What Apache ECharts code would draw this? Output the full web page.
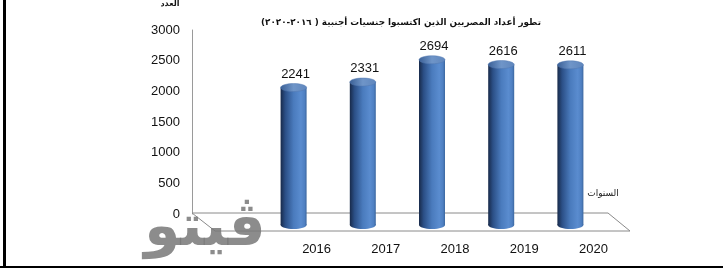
<!DOCTYPE html>
<html><head><meta charset="utf-8">
<script src="https://cdn.jsdelivr.net/npm/echarts@6/dist/echarts.min.js"></script>
<style>html,body{margin:0;padding:0;background:#fff}#c{width:723px;height:271px}</style>
</head><body><div id="c"></div>
<script>
const categories = ['2016', '2017', '2018', '2019', '2020'];
const values = [2241, 2331, 2694, 2616, 2611];
const yTicks = [0, 500, 1000, 1500, 2000, 2500, 3000];
const titleText = 'تطور أعداد المصريين الذين اكتسبوا جنسيات أجنبية ( ٢٠١٦-٢٠٢٠)';
const yName = 'العدد';
const xName = 'السنوات';

const chart = echarts.init(document.getElementById('c'), null, {renderer: 'canvas'});
const RLE = '\u202B', PDF = '\u202C';

const bodyGrad = new echarts.graphic.LinearGradient(0, 0, 1, 0, [
  {offset: 0, color: '#182a4a'},
  {offset: 0.18, color: '#2b4f86'},
  {offset: 0.5, color: '#4a7bbd'},
  {offset: 0.78, color: '#5a8ccf'},
  {offset: 0.92, color: '#4f80c2'},
  {offset: 1, color: '#3c679f'}
]);
const topGrad = new echarts.graphic.LinearGradient(0, 0, 1, 0, [
  {offset: 0, color: '#3a5f95'},
  {offset: 0.5, color: '#6f95c8'},
  {offset: 1, color: '#5f86bd'}
]);

function renderCyl(params, api) {
  const idx = api.value(0), v = api.value(1);
  const top = api.coord([idx, v]);
  const base = api.coord([idx, 0]);
  const w = 26, ry = 4, cx = top[0], x0 = cx - w / 2;
  return {
    type: 'group',
    children: [
      {type: 'rect', shape: {x: x0, y: top[1], width: w, height: base[1] - top[1]}, style: {fill: bodyGrad}},
      {type: 'ellipse', shape: {cx: cx, cy: base[1], rx: w / 2, ry: ry}, style: {fill: bodyGrad}},
      {type: 'ellipse', shape: {cx: cx, cy: top[1], rx: w / 2, ry: ry}, style: {fill: topGrad, stroke: '#5279b0', lineWidth: 0.5}},
      {type: 'text', style: {text: String(v), x: cx + 2, y: top[1] - ry - 3, align: 'center', verticalAlign: 'bottom',
        fill: '#111', font: '13px "Liberation Sans", Arial, sans-serif'}}
    ]
  };
}

chart.setOption({
  animation: false,
  backgroundColor: '#fff',
  grid: [
    {left: 192, top: 30, width: 415, bottom: 57},
    {left: 259, top: 41, width: 346, bottom: 46},
    {left: 282, top: 41, width: 346, bottom: 35}
  ],
  xAxis: [
    {gridIndex: 0, type: 'value', min: 0, max: 1, show: false},
    {gridIndex: 1, type: 'category', data: categories, show: false},
    {gridIndex: 2, type: 'category', data: categories, axisLine: {show: false}, axisTick: {show: false},
      axisLabel: {color: '#111', fontSize: 13, fontFamily: '"Liberation Sans", Arial, sans-serif', margin: 7}}
  ],
  yAxis: [
    {gridIndex: 0, type: 'value', min: yTicks[0], max: yTicks[yTicks.length - 1], interval: 500,
      axisLine: {show: true, lineStyle: {color: '#9a9a9a', width: 1}}, axisTick: {show: false}, splitLine: {show: false},
      axisLabel: {color: '#111', fontSize: 13, fontFamily: '"Liberation Sans", Arial, sans-serif', margin: 12,
        formatter: v => String(v)}},
    {gridIndex: 1, type: 'value', min: 0, max: 3000, show: false},
    {gridIndex: 2, type: 'value', min: 0, max: 3000, show: false}
  ],
  graphic: [
    {type: 'rect', shape: {x: 3, y: 0, width: 3, height: 268}, style: {fill: '#000'}},
    {type: 'rect', shape: {x: 0, y: 266, width: 723, height: 2}, style: {fill: '#000'}},
    {type: 'polygon', shape: {points: [[192, 213], [608, 213], [630, 231], [215, 231]]},
      style: {fill: 'none', stroke: '#8a8a8a', lineWidth: 1}, z: 1},
    {type: 'text', style: {text: RLE + titleText + PDF, x: 401, y: 23, align: 'center', verticalAlign: 'middle',
      fill: '#111', font: 'bold 8.8px "DejaVu Sans", sans-serif'}},
    {type: 'text', style: {text: yName, x: 170, y: 4, align: 'center', verticalAlign: 'middle',
      fill: '#111', font: 'bold 8px "DejaVu Sans", sans-serif'}},
    {type: 'text', style: {text: xName, x: 603, y: 194, align: 'center', verticalAlign: 'middle',
      fill: '#222', font: '9px "DejaVu Sans", sans-serif'}},
    {type: 'text', style: {text: 'ڤيتو', x: 205, y: 230, align: 'center', verticalAlign: 'middle',
      fill: 'rgba(120,120,120,0.85)', font: 'bold 58px "DejaVu Sans", sans-serif'}, z: 50}
  ],
  series: [{
    type: 'custom', xAxisIndex: 1, yAxisIndex: 1, z: 5,
    data: values.map((v, i) => [i, v]),
    renderItem: renderCyl
  }]
});
</script></body></html>
